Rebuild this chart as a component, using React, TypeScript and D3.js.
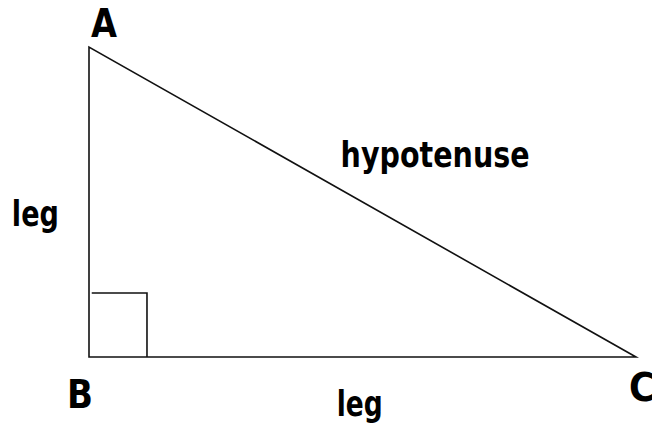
import { useEffect, useRef } from 'react';
import * as d3 from 'd3';

// triangle in unit coordinates (B is the right angle)
const vertexNames = ['A', 'B', 'C'];
const vertexX = [0, 0, 10];
const vertexY = [5.67, 0, 0];
const squareW = 1.06;
const squareH = 1.17;

// side labels: text, anchor point in units
const sideLabels = ['leg', 'hypotenuse', 'leg'];
const sideLabelX = [-1.41, 4.6, 4.53];
const sideLabelY = [2.39, 3.47, -1.08];
const sideLabelWidth = [47, 189, 46];

// vertex label offsets (px) from each vertex
const vertexLabelDx = [2, -22, -7];
const vertexLabelDy = [-10, 51, 44];

const App = () => {
  const svgRef = useRef<SVGSVGElement>(null);

  useEffect(() => {
    const svg = d3.select(svgRef.current).attr('width', 652).attr('height', 424);
    svg.selectAll('*').remove();

    const x = d3.scaleLinear().domain([0, 10]).range([89, 636]);
    const y = d3.scaleLinear().domain([0, 5.67]).range([357, 47]);

    const pts = vertexNames.map((n, i) => ({ name: n, x: vertexX[i], y: vertexY[i] }));

    const line = d3
      .line<{ x: number; y: number }>()
      .x((d) => x(d.x))
      .y((d) => y(d.y));

    svg
      .append('path')
      .attr('d', line(pts) + 'Z')
      .attr('fill', 'none')
      .attr('stroke', '#111')
      .attr('stroke-width', 1.6)
      .attr('stroke-linejoin', 'miter');

    // right-angle marker
    const sq = [
      { x: 0.05, y: squareH },
      { x: squareW, y: squareH },
      { x: squareW, y: 0 },
    ];
    svg
      .append('path')
      .attr('d', line(sq))
      .attr('fill', 'none')
      .attr('stroke', '#111')
      .attr('stroke-width', 1.6);

    svg
      .selectAll('.vlabel')
      .data(pts)
      .enter()
      .append('text')
      .attr('class', 'vlabel')
      .attr('x', (d, i) => x(d.x) + vertexLabelDx[i])
      .attr('y', (d, i) => y(d.y) + vertexLabelDy[i])
      .attr('font-family', 'DejaVu Sans, Verdana, sans-serif')
      .attr('font-weight', 'bold')
      .attr('font-size', 39)
      .attr('textLength', 26)
      .attr('lengthAdjust', 'spacingAndGlyphs')
      .text((d) => d.name);

    svg
      .selectAll('.slabel')
      .data(sideLabels)
      .enter()
      .append('text')
      .attr('class', 'slabel')
      .attr('x', (d, i) => x(sideLabelX[i]))
      .attr('y', (d, i) => y(sideLabelY[i]))
      .attr('font-family', 'DejaVu Sans, Verdana, sans-serif')
      .attr('font-weight', 'bold')
      .attr('font-size', 35)
      .attr('textLength', (d, i) => sideLabelWidth[i])
      .attr('lengthAdjust', 'spacingAndGlyphs')
      .text((d) => d);
  }, []);

  return (
    <svg
      ref={svgRef}
      style={{ position: 'absolute', left: 0, top: 0, background: '#fff' }}
    ></svg>
  );
};

export default App;
